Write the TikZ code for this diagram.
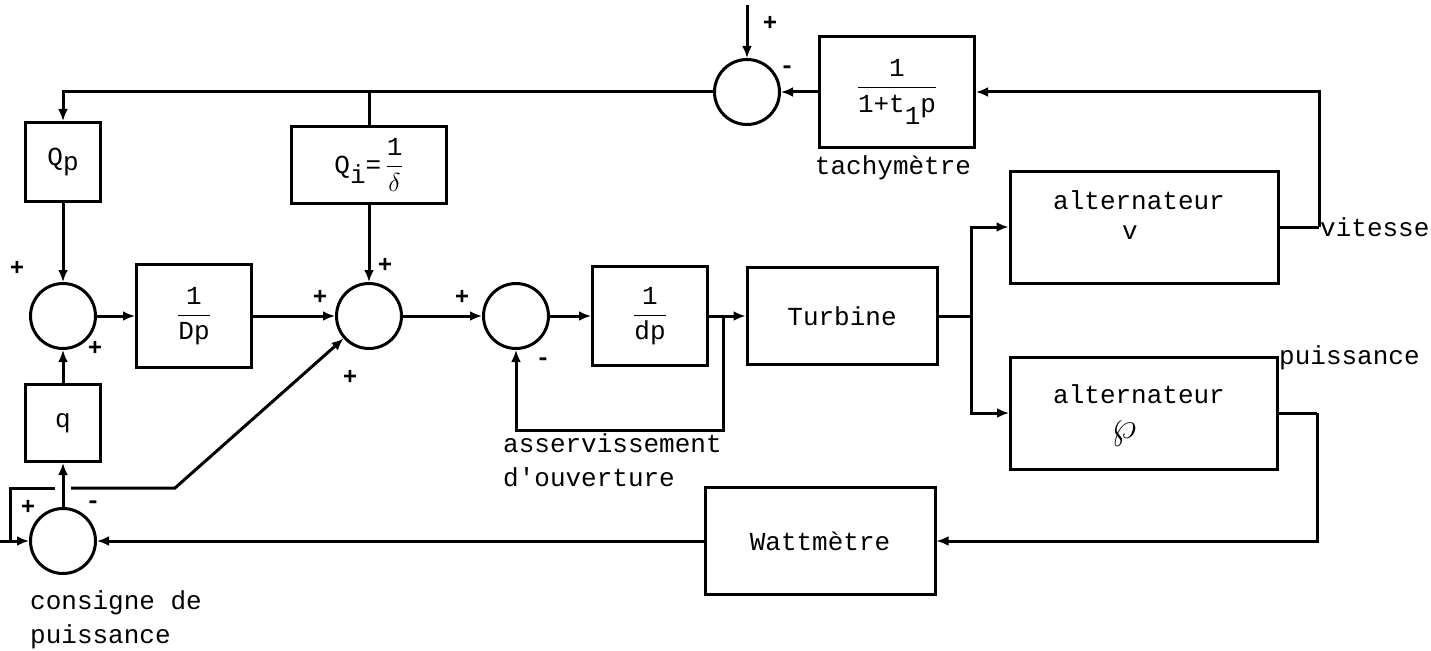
\RequirePackage{fix-cm}
\documentclass[tikz,border=0pt]{standalone}
\usepackage{amsmath}
\usepackage{graphicx}
\usepackage{fontspec}
\setmonofont{Liberation Mono}
\usetikzlibrary{arrows.meta,calc}
\begin{document}
\begin{tikzpicture}[x=1pt,y=-1pt,
  every node/.style={font=\fontsize{26}{30}\selectfont\ttfamily, inner sep=0pt},
  box/.style 2 args={draw, line width=3pt, minimum width=#1, minimum height=#2},
  sum/.style={draw, circle, line width=3pt, minimum size=65pt},
  wire/.style={line width=3pt},
  arr/.style={line width=3pt, -{Latex[length=12pt,width=10pt]}},
  sign/.style={font=\fontsize{24}{26}\selectfont\ttfamily\bfseries}]
\fill[white] (0,0) rectangle (1431,650);
\useasboundingbox (0,0) rectangle (1431,650);

% blocks
\node[sum] (S0) at (747,92) {};
\node[box={155pt}{110pt}] (tach) at (897,92) {$\displaystyle\frac{\texttt{1}}{\texttt{1+t}\raisebox{-12pt}{\texttt{1}}\texttt{p}}$};
\node (tachl) at (893,168) {tachymètre};
\node[box={75pt}{79pt}] (Qp) at (63,162) {Q\raisebox{-5pt}{p}};
\node[box={155pt}{76pt}] (Qi) at (369,165) {$\texttt{Q}\raisebox{-10pt}{\texttt{i}}\texttt{=}\,\displaystyle\frac{\texttt{1}}{\delta}$};
\node[sum] (S1) at (63,316) {};
\node[box={115pt}{103pt}] (Dp) at (194,316) {$\displaystyle\frac{\texttt{1}}{\texttt{Dp}}$};
\node[sum] (S2) at (369,316) {};
\node[sum] (S4) at (516,316) {};
\node[box={115pt}{99pt}] (dp) at (650,316) {$\displaystyle\frac{\texttt{1}}{\texttt{dp}}$};
\node[box={190pt}{97pt}] (turb) at (842,316) {Turbine};
\node[box={268pt}{112pt}] (altv) at (1144,227) {};
\node (altvt) at (1139,200) {alternateur};
\node (altvv) at (1130,233) {v};
\node[box={267pt}{112pt}] (altP) at (1144,413) {};
\node (altPt) at (1139,394) {alternateur};
\node (altPs) at (1124,434) {\scalebox{1.5}{$\wp$}};
\node[box={75pt}{77pt}] (q) at (63,423) {q};
\node[sum] (S3) at (63,541) {};
\node[box={230pt}{107pt}] (watt) at (820,541) {Wattmètre};

% labels
\node[anchor=west] (vit) at (1320,227) {vitesse};
\node[anchor=west] (puis) at (1279,358) {puissance};
\node[anchor=west] (ass) at (503,443) {asservissement};
\node[anchor=west] (ouv) at (503,477) {d'ouverture};
\node[anchor=west] (cons1) at (30,603) {consigne de};
\node[anchor=west] (cons2) at (30,637) {puissance};

% signs
\node[sign] (s0a) at (770,23) {+};
\node[sign] (s0b) at (787,70) {-};
\node[sign] (s1a) at (17,268) {+};
\node[sign] (s1b) at (95,348) {+};
\node[sign] (s2a) at (385,265) {+};
\node[sign] (s2b) at (320,297) {+};
\node[sign] (s2c) at (350,377) {+};
\node[sign] (s4a) at (462,297) {+};
\node[sign] (s4b) at (543,362) {-};
\node[sign] (s3a) at (28,507) {+};
\node[sign] (s3b) at (93,505) {-};

% coordinates
\coordinate (topin) at (747,5);
\coordinate (vj) at (1319,227);
\coordinate (pj) at (1317,413);
\coordinate (tj) at (971,316);
\coordinate (fbj) at (723,316);
\coordinate (fbb) at (723,430);
\coordinate (spin) at (0,541);
\coordinate (spj) at (10,541);
\coordinate (spu) at (10,488);
\coordinate (gapl) at (55,488);
\coordinate (gapr) at (71,488);
\coordinate (spk) at (175,488);

% connectors
\draw[arr] (topin) -- (S0.north);
\draw[arr] (tach.west) -- (S0.east);
\draw[wire] (altv.east) -- (vj);
\draw[arr] (vj) |- (tach.east);
\draw[arr] (S0.west) -| (Qp.north);
\draw[wire] (Qi.north) -- (Qi.north |- S0.west);
\draw[arr] (Qp.south) -- (S1.north);
\draw[arr] (Qi.south) -- (S2.north);
\draw[arr] (S1.east) -- (Dp.west);
\draw[arr] (Dp.east) -- (S2.west);
\draw[arr] (S2.east) -- (S4.west);
\draw[arr] (S4.east) -- (dp.west);
\draw[arr] (dp.east) -- (turb.west);
\draw[arr] (fbj) -- (fbb) -| (S4.south);
\draw[wire] (turb.east) -- (tj);
\draw[arr] (tj) |- (altv.west);
\draw[arr] (tj) |- (altP.west);
\draw[wire] (altP.east) -- (pj);
\draw[arr] (pj) |- (watt.east);
\draw[arr] (watt.west) -- (S3.east);
\draw[arr] (S3.north) -- (q.south);
\draw[arr] (q.north) -- (S1.south);
\draw[arr] (spin) -- (S3.west);
\draw[wire] (spj) -- (spu) -- (gapl);
\draw[arr] (gapr) -- (spk) -- (S2);
\end{tikzpicture}
\end{document}
